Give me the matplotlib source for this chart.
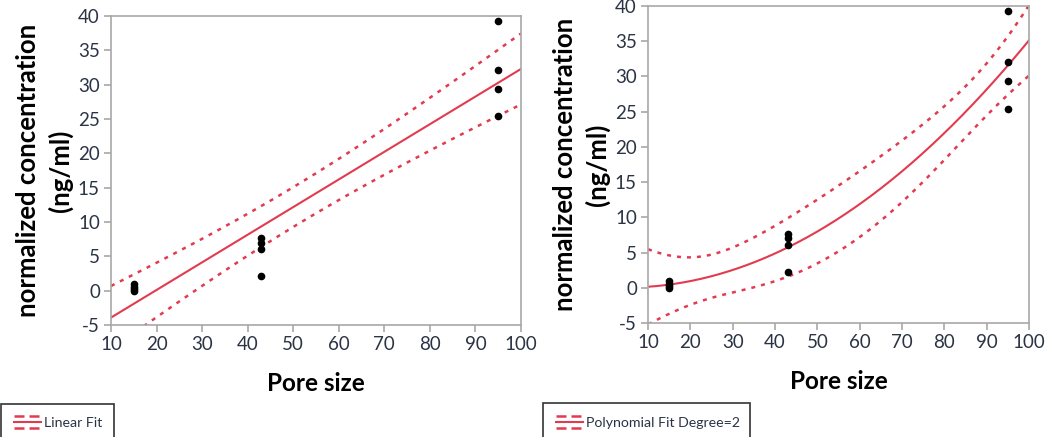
import numpy as np
import matplotlib
matplotlib.use("Agg")
from matplotlib import pyplot as plt
from matplotlib.lines import Line2D
from matplotlib.patches import Rectangle

# measured data (pore size vs normalized concentration)
pore_size = np.array([15, 15, 15, 15, 43, 43, 43, 43, 95, 95, 95, 95], dtype=float)
concentration = np.array([0.9, 0.6, 0.3, 0.0,
                          7.6, 7.0, 6.1, 2.2,
                          39.3, 32.1, 29.4, 25.4])

x_ticks = list(range(10, 101, 10))
y_ticks = list(range(-5, 41, 5))
panel_titles = ["Linear Fit", "Polynomial Fit Degree=2"]
fit_degrees = [1, 2]
T95 = {9: 2.262, 10: 2.228}

RED = "#e23b50"
GRAY = "#a8a8a8"
TXT = "#2b3445"

plt.rcParams["font.family"] = ["Lato", "DejaVu Sans"]
plt.rcParams["axes.unicode_minus"] = False


def fit_band(x, y, deg, xs):
    coef = np.polyfit(x, y, deg)
    X = np.vander(x, deg + 1)
    Xs = np.vander(xs, deg + 1)
    resid = y - X @ coef
    dof = len(x) - deg - 1
    s2 = resid @ resid / dof
    cov = s2 * np.linalg.inv(X.T @ X)
    se = np.sqrt(np.sum((Xs @ cov) * Xs, axis=1))
    fit = Xs @ coef
    t = T95[dof]
    return fit, fit - t * se, fit + t * se


fig = plt.figure(figsize=(10.5, 4.37), dpi=100)
W, H = 1050, 437
boxes = [(111, 521, 16, 325), (648, 1029, 6, 323)]
legend_boxes = [(1, 114, 404), (543, 750, 403)]

xs = np.linspace(10, 100, 300)
for i, (l, r, t, b) in enumerate(boxes):
    ax = fig.add_axes([l / W, 1 - b / H, (r - l) / W, (b - t) / H])
    fit, lo, hi = fit_band(pore_size, concentration, fit_degrees[i], xs)
    ax.plot(xs, fit, color=RED, lw=1.5)
    for band in (lo, hi):
        ax.plot(xs, band, color=RED, lw=1.8, dashes=(1.6, 2.4))
    ax.plot(pore_size, concentration, "o", color="black", ms=4.5)
    ax.set_xlim(10, 100)
    ax.set_ylim(-5, 40)
    ax.set_xticks(x_ticks)
    ax.set_yticks(y_ticks)
    for s in ax.spines.values():
        s.set_color(GRAY)
        s.set_linewidth(1.2)
    ax.tick_params(direction="out", length=5, width=1.2, color=GRAY,
                   labelcolor=TXT, labelsize=13.5, pad=3)
    ax.set_xlabel("Pore size", fontsize=17.5, fontweight="bold", va="top")
    ax.xaxis.set_label_coords(0.5, -47 / (b - t))
    ax.set_ylabel("normalized concentration\n(ng/ml)", fontsize=18.5,
                  fontweight="bold", linespacing=1.35)
    ax.yaxis.set_label_coords(-38 / (r - l), 0.5)

    # legend box drawn below each panel
    bl, br, bt = legend_boxes[i]
    fig.add_artist(Rectangle((bl / W, -0.05), (br - bl) / W, 0.05 + (H - bt) / H,
                             transform=fig.transFigure, fill=False,
                             edgecolor="#333333", lw=1.2))
    sx0, sx1 = (bl + 13) / W, (bl + 40) / W
    for yy, solid in ((416, False), (422, True), (428, False)):
        if solid:
            fig.add_artist(Line2D([sx0, sx1], [1 - yy / H] * 2, color=RED, lw=1.5,
                                  transform=fig.transFigure))
        else:
            fig.add_artist(Line2D([sx0, sx1], [1 - yy / H] * 2, color=RED, lw=1.8,
                                  dashes=(4, 2), transform=fig.transFigure))
    fig.text((bl + 43) / W, 1 - 423 / H, panel_titles[i], fontsize=10.2,
             color=TXT, va="center", ha="left")

fig.savefig("out.png", dpi=100)
